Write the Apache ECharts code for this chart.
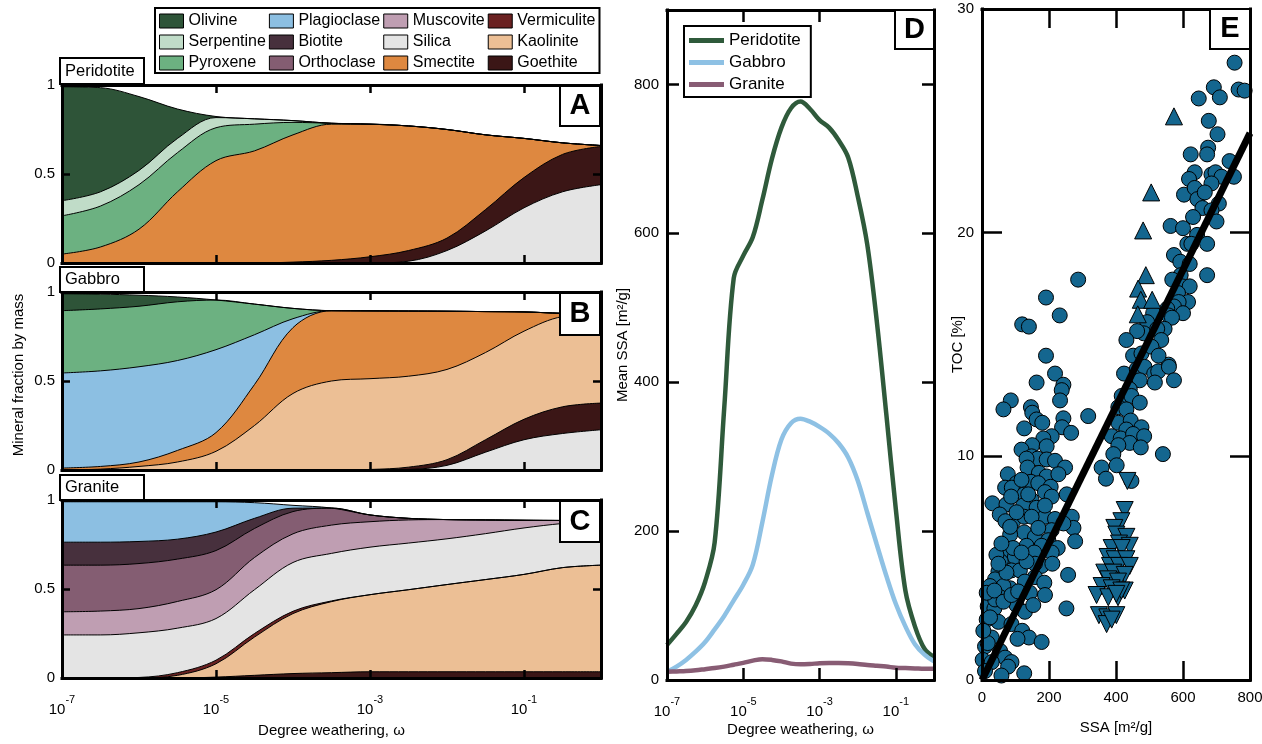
<!DOCTYPE html>
<html>
<head>
<meta charset="utf-8">
<script src="https://cdn.jsdelivr.net/npm/echarts@6/dist/echarts.min.js"></script>
<style>
  html, body { margin: 0; padding: 0; background: #fff; }
  #chart { width: 1262px; height: 744px; }
</style>
</head>
<body>
<div id="chart"></div>
<script>
const FONT = '"Liberation Sans", Arial, Helvetica, sans-serif';

// x positions of panels A-C are log10(omega)
const logW = [-7, -6.5, -6, -5.5, -5, -4.5, -4, -3.5, -3, -2.5, -2, -1.5, -1, -0.5, 0];

// Panel A, Peridotite (bottom to top)
const aSilica     = [0, 0, 0, 0, 0, 0, 0, 0, 0, 0.01, 0.07, 0.18, 0.31, 0.40, 0.44];
const aGoethite   = [0, 0, 0, 0, 0, 0, 0.005, 0.015, 0.035, 0.06, 0.07, 0.12, 0.17, 0.21, 0.215];
const aSmectite   = [0.05, 0.09, 0.19, 0.40, 0.575, 0.63, 0.715, 0.765, 0.745, 0.70, 0.61, 0.42, 0.22, 0.065, 0.005];
const aPyroxene   = [0.215, 0.23, 0.25, 0.22, 0.185, 0.15, 0.07, 0.005, 0, 0, 0, 0, 0, 0, 0];
const aSerpentine = [0.085, 0.08, 0.08, 0.08, 0.057, 0.03, 0.01, 0, 0, 0, 0, 0, 0, 0, 0];
const aOlivine    = [0.64, 0.585, 0.415, 0.165, 0.006, 0, 0, 0, 0, 0, 0, 0, 0, 0, 0];

// Panel B, Gabbro
const bSilica      = [0, 0, 0, 0, 0, 0, 0, 0, 0, 0.003, 0.026, 0.10, 0.17, 0.205, 0.226];
const bGoethite    = [0, 0, 0, 0, 0, 0, 0, 0, 0.003, 0.013, 0.032, 0.07, 0.115, 0.15, 0.15];
const bKaolinite   = [0, 0.005, 0.02, 0.045, 0.105, 0.25, 0.43, 0.50, 0.51, 0.511, 0.507, 0.49, 0.495, 0.507, 0.499];
const bSmectite    = [0.011, 0.015, 0.025, 0.065, 0.105, 0.23, 0.37, 0.395, 0.381, 0.366, 0.327, 0.23, 0.108, 0.018, 0];
const bPlagioclase = [0.534, 0.537, 0.535, 0.505, 0.466, 0.28, 0.05, 0, 0, 0, 0, 0, 0, 0, 0];
const bPyroxene    = [0.35, 0.348, 0.34, 0.33, 0.279, 0.172, 0.058, 0, 0, 0, 0, 0, 0, 0, 0];
const bOlivine     = [0.095, 0.083, 0.062, 0.027, 0, 0, 0, 0, 0, 0, 0, 0, 0, 0, 0];

// Panel C, Granite
const cGoethite    = [0, 0, 0, 0, 0.005, 0.015, 0.025, 0.03, 0.035, 0.035, 0.035, 0.035, 0.035, 0.035, 0.035];
const cKaolinite   = [0, 0, 0, 0.015, 0.075, 0.215, 0.337, 0.399, 0.433, 0.461, 0.49, 0.518, 0.547, 0.585, 0.599];
const cVermiculite = [0, 0, 0.003, 0.015, 0.02, 0.02, 0.013, 0.004, 0, 0, 0, 0, 0, 0, 0];
const cSilica      = [0.242, 0.242, 0.251, 0.25, 0.234, 0.246, 0.274, 0.267, 0.267, 0.262, 0.257, 0.258, 0.261, 0.248, 0.25];
const cMuscovite   = [0.13, 0.134, 0.136, 0.15, 0.162, 0.181, 0.161, 0.159, 0.143, 0.13, 0.108, 0.077, 0.043, 0.017, 0];
const cOrthoclase  = [0.262, 0.258, 0.253, 0.238, 0.22, 0.163, 0.125, 0.095, 0.038, 0.009, 0, 0, 0, 0, 0];
const cBiotite     = [0.129, 0.129, 0.124, 0.112, 0.104, 0.057, 0.019, 0.001, 0, 0, 0, 0, 0, 0, 0];
const cPlagioclase = [0.227, 0.227, 0.223, 0.21, 0.17, 0.088, 0.016, 0, 0, 0, 0, 0, 0, 0, 0];

// Panel D, mean SSA
const ssaLogW = [-7, -6.75, -6.5, -6.25, -6, -5.75, -5.5, -5.25, -5, -4.75, -4.5, -4.25, -4, -3.75, -3.5,
                 -3.25, -3, -2.75, -2.5, -2.25, -2, -1.75, -1.5, -1.25, -1, -0.75, -0.5, -0.25, 0];
const ssaPeridotite = [47, 62, 78, 100, 132, 185, 365, 540, 570, 595, 645, 700, 742, 768, 777,
                       767, 752, 742, 725, 702, 650, 585, 482, 357, 229, 120, 72, 42, 31];
const ssaGabbro     = [11, 18, 27, 38, 51, 68, 86, 107, 128, 155, 212, 275, 323, 345, 351,
                       347, 340, 331, 318, 299, 268, 225, 182, 140, 102, 72, 48, 34, 25];
const ssaGranite    = [11, 11.5, 12, 13, 14.5, 16, 18, 20.5, 23, 26, 28, 27, 25, 22, 21,
                       21.5, 22.5, 23, 23, 22.5, 21.5, 20, 19, 18, 16.5, 16, 15.5, 15, 15];

// Panel E, TOC vs SSA  [SSA, TOC]
const tocCircles = [
  [754,27.6],[692,26.5],[766,26.4],[784,26.35],[647,26.0],[710,26.05],[677,25.0],[703,24.4],[623,23.5],[675,23.8],
  [672,23.5],[739,23.2],[635,22.7],[685,22.6],[697,22.7],[715,22.5],[752,22.5],[618,22.4],[685,22.2],[603,21.7],
  [635,22.0],[643,21.5],[665,21.8],[707,21.3],[658,21.1],[630,20.7],[685,21.0],[700,20.5],[563,20.3],[600,20.2],
  [642,19.9],[613,19.5],[625,19.5],[672,19.5],[573,19.0],[592,18.7],[620,18.6],[593,18.1],[672,18.1],[568,17.9],
  [597,17.6],[620,17.6],[585,17.3],[615,16.9],[587,16.9],[573,16.7],[600,16.4],[553,16.6],[511,16.4],[557,16.3],
  [567,16.2],[545,15.7],[493,16.0],[483,15.5],[523,15.7],[535,15.2],[463,15.6],[431,15.2],[451,14.5],[557,14.1],
  [476,14.6],[506,14.9],[527,14.5],
  [287,17.9],[191,17.1],[232,16.3],[120,15.9],[140,15.8],[191,14.5],
  [424,13.7],[462,13.9],[485,14.0],[514,13.7],[526,13.8],[558,14.0],[573,13.4],[516,13.3],[471,13.4],[441,13.0],
  [417,12.7],[446,12.7],[407,12.2],[471,12.4],[431,12.1],[317,11.8],[407,11.5],[444,11.6],[476,11.3],[431,11.2],
  [387,10.9],[414,10.8],[451,11.0],[484,10.9],[441,10.6],[407,10.5],[474,10.4],[392,10.1],[540,10.1],[357,9.5],
  [402,9.6],[370,9.0],[446,8.9],
  [218,13.7],[163,13.3],[243,13.2],[238,12.96],[233,12.5],[86,12.5],[64,12.1],[146,12.2],[150,11.95],[163,11.65],
  [180,11.5],[126,11.25],[243,11.7],[239,11.3],[266,11.05],[208,10.9],[183,10.8],[150,10.5],[118,10.3],[193,10.45],
  [148,10.0],[166,9.9],[133,9.9],[193,9.86],[218,9.8],[248,9.5],[77,9.2],[136,9.5],[170,9.26],[193,9.1],
  [228,9.2],[103,8.8],[69,8.6],[89,8.6],[146,8.86],[168,8.8],[205,8.64],[126,8.3],[188,8.4],[208,8.2],
  [253,8.3],[148,8.05],[123,7.8],[163,7.7],[31,7.9],[73,7.85],[53,7.4],[93,7.1],[126,7.3],[188,7.3],
  [218,7.2],[268,7.3],[273,6.8],[243,7.0],[208,6.7],[126,6.6],[158,6.4],[84,6.5],[198,6.25],[226,5.9],
  [178,6.0],[133,6.0],[66,5.84],[278,6.2],[70,5.5],[98,5.5],[156,5.7],[208,5.7],[56,5.3],[88,4.9],
  [113,4.9],[49,4.85],[178,5.1],[158,4.6],[210,5.2],[257,4.7],[39,4.5],[84,4.1],[64,4.2],[128,4.4],
  [186,4.35],[29,3.95],[54,3.7],[143,3.9],[188,3.8],[17,3.3],[37,3.2],[103,3.35],[128,3.05],[153,3.35],
  [252,3.2],[14,2.7],[49,2.6],[88,2.5],[120,2.2],[140,1.9],[106,1.84],[178,1.7],[29,1.9],[9,1.5],
  [54,1.3],[69,1.0],[2,0.9],[88,0.8],[78,0.6],[29,0.8],[58,0.2],[126,0.3],[9,0.4],[17,1.65],
  [4,2.2],[24,2.8],[39,3.6],[73,4.8],[93,5.9],[70,7.1],[84,6.85],[43,5.6],[58,6.1],[49,5.2],
  [24,4.2],[14,3.9],[37,4.0],[64,3.5],[88,3.8],[108,3.96],[158,5.2],[133,5.3],[118,5.7],[103,7.5],
  [148,7.3],[168,6.8],[188,7.8],[138,8.3],[87,8.2],[118,8.95]
];
const tocTriUp = [[573,25.2],[505,21.8],[481,20.1],[489,18.1],[466,17.5],[474,17.0],[508,17.0],[465,16.35]];
const tocTriDown = [
  [434,8.9],[426,7.6],[416,7.1],[395,6.8],[401,6.5],[431,6.4],[409,6.1],[441,6.0],[387,5.9],[417,5.9],
  [375,5.5],[396,5.4],[431,5.4],[382,5.1],[409,5.1],[441,5.1],[365,4.8],[392,4.8],[426,4.7],[377,4.5],
  [406,4.4],[357,4.2],[387,4.1],[426,4.0],[342,3.8],[377,3.7],[406,3.7],[349,2.9],[374,2.8],[401,2.9],
  [372,2.5],[387,2.7],[416,4.0],[401,3.85]
];
const fitSSA = [0, 800];
const fitTOC = [0, 24.45];

const mineralColor = {
  Olivine: '#2e5438', Serpentine: '#c0dcc8', Pyroxene: '#6cb181',
  Plagioclase: '#8cbfe2', Biotite: '#47303d', Orthoclase: '#845d72',
  Muscovite: '#bf9eb2', Silica: '#e4e4e4', Smectite: '#de8840',
  Vermiculite: '#6a2121', Kaolinite: '#ecbf95', Goethite: '#3b1616'
};
const legendOrder = ['Olivine', 'Serpentine', 'Pyroxene', 'Plagioclase', 'Biotite', 'Orthoclase',
                     'Muscovite', 'Silica', 'Smectite', 'Vermiculite', 'Kaolinite', 'Goethite'];
const rockColor = { Peridotite: '#2f5a3b', Gabbro: '#8ec1e4', Granite: '#885c74' };

const grids = [
  { left: 62, top: 85, width: 539, height: 178 },
  { left: 62, top: 292, width: 539, height: 178 },
  { left: 62, top: 500, width: 539, height: 178 },
  { left: 667, top: 10, width: 267, height: 670 },
  { left: 982, top: 9, width: 268, height: 671 }
];

const powLabel = {
  formatter: v => '{b|10}{s|' + v + '}',
  margin: 16,
  showMaxLabel: false,
  rich: {
    b: { fontSize: 15, fontFamily: FONT, color: '#000', lineHeight: 23, verticalAlign: 'bottom' },
    s: { fontSize: 11, fontFamily: FONT, color: '#000', lineHeight: 11, verticalAlign: 'top' }
  }
};

function axisPair(gi, dir, min, max, interval, tick, label, name, nameGap) {
  const base = {
    gridIndex: gi, type: 'value', min, max, interval, z: 10,
    splitLine: { show: false },
    axisLine: { show: true, onZero: false, lineStyle: { color: '#000', width: 3, cap: 'square' } },
    axisTick: { show: true, inside: true, length: tick, lineStyle: { color: '#000', width: 2.5 } }
  };
  const main = Object.assign({}, base, {
    position: dir === 'x' ? 'bottom' : 'left',
    axisLabel: label ? Object.assign({ color: '#000', fontSize: 15, fontFamily: FONT }, label) : { show: false }
  });
  if (name) {
    Object.assign(main, {
      name, nameLocation: 'middle', nameGap, nameMoveOverlap: false,
      nameTextStyle: { color: '#000', fontSize: 15, fontFamily: FONT }
    });
  }
  const mirror = Object.assign({}, base, {
    position: dir === 'x' ? 'top' : 'right',
    axisLabel: { show: false }
  });
  return [main, mirror];
}

const xAxis = [].concat(
  axisPair(0, 'x', -7, 0, 2, 8, null),
  axisPair(1, 'x', -7, 0, 2, 8, null),
  axisPair(2, 'x', -7, 0, 2, 8, powLabel, 'Degree weathering, ω', 45),
  axisPair(3, 'x', -7, 0, 2, 12, powLabel, 'Degree weathering, ω', 42),
  axisPair(4, 'x', 0, 800, 200, 19, { margin: 10 }, 'SSA [m²/g]', 40)
);
const fracLabel = { margin: 7, formatter: v => String(v) };
const yAxis = [].concat(
  axisPair(0, 'y', 0, 1, 0.5, 8, fracLabel),
  axisPair(1, 'y', 0, 1, 0.5, 8, fracLabel),
  axisPair(2, 'y', 0, 1, 0.5, 8, fracLabel),
  axisPair(3, 'y', 0, 900, 200, 12, { margin: 8, showMaxLabel: false }, 'Mean SSA [m²/g]', 37),
  axisPair(4, 'y', 0, 30, 10, 20, { margin: 8 }, 'TOC [%]', 17)
);

// each layer is drawn as the area under its cumulative top, topmost first,
// so lower layers paint over the upper ones
function panelLayers(gi, layers) {
  let acc = logW.map(() => 0);
  const tops = layers.map(([name, vals]) => {
    acc = acc.map((s, k) => s + vals[k]);
    return [name, acc];
  });
  return tops.reverse().map(([name, top]) => ({
    type: 'line', name, xAxisIndex: gi * 2, yAxisIndex: gi * 2,
    data: logW.map((e, k) => [e, top[k]]),
    smooth: 0.35, symbol: 'none', showSymbol: false,
    lineStyle: { color: '#000', width: 1 },
    areaStyle: { color: mineralColor[name], opacity: 1 },
    itemStyle: { color: mineralColor[name] },
    silent: true
  }));
}

function ssaLine(name, vals) {
  return {
    type: 'line', name, xAxisIndex: 6, yAxisIndex: 6,
    data: ssaLogW.map((e, k) => [e, vals[k]]),
    smooth: 0.35, symbol: 'none', showSymbol: false,
    lineStyle: { color: rockColor[name], width: 4.5 },
    itemStyle: { color: rockColor[name] },
    silent: true
  };
}

const markerStyle = { color: '#14668f', borderColor: '#000', borderWidth: 1, opacity: 1 };

const series = [].concat(
  panelLayers(0, [['Silica', aSilica], ['Goethite', aGoethite], ['Smectite', aSmectite],
                  ['Pyroxene', aPyroxene], ['Serpentine', aSerpentine], ['Olivine', aOlivine]]),
  panelLayers(1, [['Silica', bSilica], ['Goethite', bGoethite], ['Kaolinite', bKaolinite],
                  ['Smectite', bSmectite], ['Plagioclase', bPlagioclase], ['Pyroxene', bPyroxene],
                  ['Olivine', bOlivine]]),
  panelLayers(2, [['Goethite', cGoethite], ['Kaolinite', cKaolinite], ['Vermiculite', cVermiculite],
                  ['Silica', cSilica], ['Muscovite', cMuscovite], ['Orthoclase', cOrthoclase],
                  ['Biotite', cBiotite], ['Plagioclase', cPlagioclase]]),
  [
    ssaLine('Peridotite', ssaPeridotite),
    ssaLine('Gabbro', ssaGabbro),
    ssaLine('Granite', ssaGranite),
    { type: 'scatter', name: 'circles', xAxisIndex: 8, yAxisIndex: 8, data: tocCircles,
      symbol: 'circle', symbolSize: 15, itemStyle: markerStyle, silent: true },
    { type: 'scatter', name: 'up', xAxisIndex: 8, yAxisIndex: 8, data: tocTriUp,
      symbol: 'triangle', symbolSize: 17, itemStyle: markerStyle, silent: true },
    { type: 'scatter', name: 'down', xAxisIndex: 8, yAxisIndex: 8, data: tocTriDown,
      symbol: 'triangle', symbolRotate: 180, symbolSize: 17, itemStyle: markerStyle, silent: true },
    { type: 'line', name: 'fit', xAxisIndex: 8, yAxisIndex: 8,
      data: fitSSA.map((x, k) => [x, fitTOC[k]]), symbol: 'none',
      lineStyle: { color: '#000', width: 7 }, silent: true, z: 5 }
  ]
);

function tag(x, y, w, h, text, size, bold) {
  return [
    { type: 'rect', z: 100, shape: { x, y, width: w, height: h },
      style: { fill: '#fff', stroke: '#000', lineWidth: 2 } },
    { type: 'text', z: 101, x: bold ? x + w / 2 : x + 5, y: y + h / 2,
      style: { text, fill: '#000', fontSize: size, fontFamily: FONT, fontWeight: bold ? 'bold' : 'normal',
               textAlign: bold ? 'center' : 'left', textVerticalAlign: 'middle' } }
  ];
}

const graphic = [].concat(
  tag(60, 58, 84, 26, 'Peridotite', 16.5, false),
  tag(60, 267, 84, 25, 'Gabbro', 16.5, false),
  tag(60, 475, 84, 25, 'Granite', 16.5, false),
  tag(560, 86, 40, 40, 'A', 29, true),
  tag(560, 293, 40, 42, 'B', 29, true),
  tag(560, 501, 40, 41, 'C', 29, true),
  tag(895, 10, 39, 39, 'D', 29, true),
  tag(1210, 9, 40, 40, 'E', 29, true),
  [{ type: 'text', z: 101, x: 19, y: 375, rotation: Math.PI / 2,
     style: { text: 'Mineral fraction by mass', fill: '#000', fontSize: 15, fontFamily: FONT,
              textAlign: 'center', textVerticalAlign: 'middle' } }]
);

const chart = echarts.init(document.getElementById('chart'), null, { renderer: 'canvas' });
chart.setOption({
  animation: false,
  backgroundColor: '#fff',
  textStyle: { fontFamily: FONT, color: '#000' },
  grid: grids.map(g => Object.assign({ containLabel: false, outerBoundsMode: 'none' }, g)),
  xAxis,
  yAxis,
  legend: [
    {
      orient: 'vertical', left: 155, top: 8, height: 62,
      itemGap: 3, itemWidth: 24, itemHeight: 14,
      padding: [4, 4, 1, 4],
      borderColor: '#000', borderWidth: 2, backgroundColor: '#fff',
      icon: 'rect', selectedMode: false,
      textStyle: { fontSize: 16, lineHeight: 18, fontFamily: FONT, color: '#000' },
      itemStyle: { borderColor: '#000', borderWidth: 1 },
      data: legendOrder.map(n => ({ name: n, icon: 'rect',
        itemStyle: { color: mineralColor[n], borderColor: '#000', borderWidth: 1 } }))
    },
    {
      orient: 'vertical', left: 684, top: 26,
      itemGap: 5, itemWidth: 35, itemHeight: 5,
      padding: [6, 10, 4, 5],
      borderColor: '#000', borderWidth: 2, backgroundColor: '#fff',
      icon: 'rect', selectedMode: false,
      textStyle: { fontSize: 17, fontFamily: FONT, color: '#000' },
      data: ['Peridotite', 'Gabbro', 'Granite'].map(n => ({ name: n, icon: 'rect',
        itemStyle: { color: rockColor[n], borderWidth: 0 } }))
    }
  ],
  graphic,
  series
});
</script>
</body>
</html>
